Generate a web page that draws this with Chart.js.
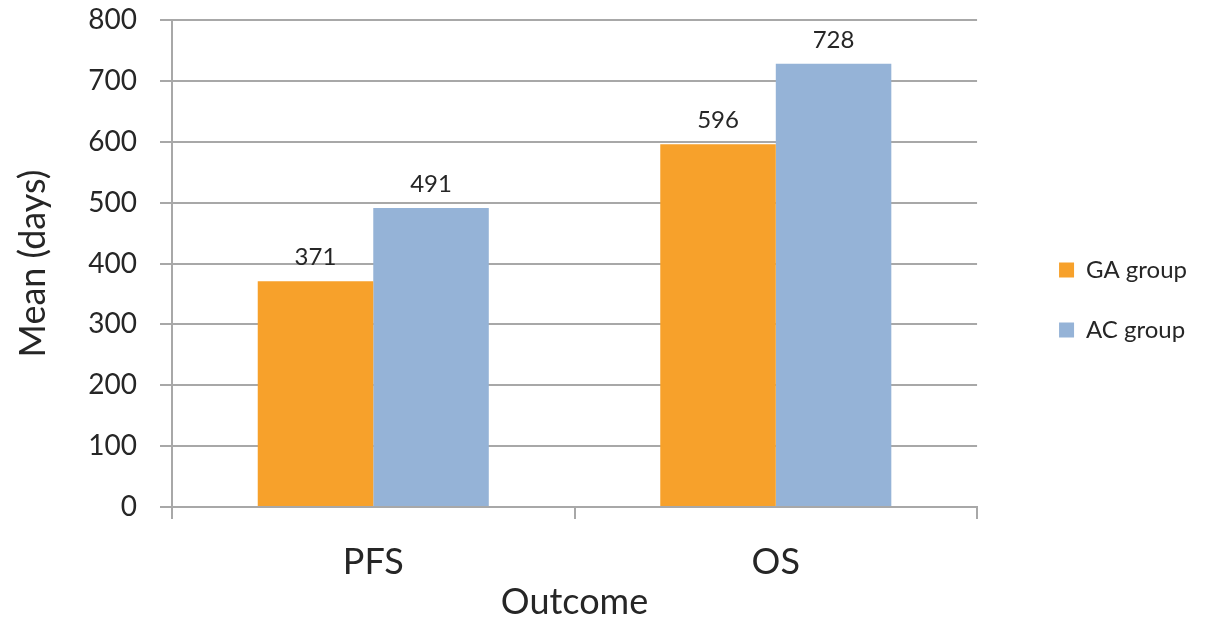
<!DOCTYPE html>
<html>
<head>
<meta charset="utf-8">
<title>Mean (days) by outcome</title>
<script src="https://cdn.jsdelivr.net/npm/chart.js@4/dist/chart.umd.min.js"></script>
<style>
  html, body { margin: 0; padding: 0; background: #ffffff; }
  #wrap { width: 1231px; height: 622px; position: relative; }
</style>
</head>
<body>
<div id="wrap"><canvas id="chart" width="1231" height="622"></canvas></div>
<script>
// Outcome categories and mean survival times (days) per treatment group
const categories = ['PFS', 'OS'];
const gaGroup = [371, 596];
const acGroup = [491, 728];
const seriesNames = ['GA group', 'AC group'];
const yTicks = [0, 100, 200, 300, 400, 500, 600, 700, 800];

const FONT = 'Lato, "Open Sans", "DejaVu Sans", sans-serif';
const TEXT = '#262626';
const GRID = '#a8a8a8';

// Writes each bar's value just above it
const valueLabels = {
  id: 'valueLabels',
  afterDatasetsDraw(chart) {
    const ctx = chart.ctx;
    ctx.save();
    ctx.font = '24px ' + FONT;
    ctx.fillStyle = TEXT;
    ctx.textAlign = 'center';
    ctx.textBaseline = 'middle';
    chart.data.datasets.forEach((ds, i) => {
      chart.getDatasetMeta(i).data.forEach((bar, j) => {
        ctx.fillText(String(ds.data[j]), bar.x, bar.y - 24);
      });
    });
    ctx.restore();
  }
};

new Chart(document.getElementById('chart'), {
  type: 'bar',
  data: {
    labels: categories,
    datasets: [
      { label: seriesNames[0], data: gaGroup, backgroundColor: '#f7a12b', borderWidth: 0 },
      { label: seriesNames[1], data: acGroup, backgroundColor: '#95b3d7', borderWidth: 0 }
    ]
  },
  options: {
    responsive: false,
    animation: false,
    layout: { padding: { left: 0, top: 0, right: 34, bottom: 22 } },
    datasets: { bar: { categoryPercentage: 0.574, barPercentage: 1.0 } },
    scales: {
      x: {
        grid: { drawOnChartArea: false, drawTicks: true, tickLength: 12, color: GRID, lineWidth: 2, offset: true },
        border: { display: true, color: GRID, width: 2 },
        ticks: { color: TEXT, font: { family: FONT, size: 36 }, padding: 22 },
        title: { display: true, text: 'Outcome', color: TEXT, font: { family: FONT, size: 36 }, padding: { top: 0, bottom: -24 } },
        afterFit(s) { s.height = 93; }
      },
      y: {
        min: 0,
        max: 800,
        afterBuildTicks(s) { s.ticks = yTicks.map(v => ({ value: v })); },
        grid: { color: GRID, lineWidth: 2, tickLength: 12 },
        border: { display: true, color: GRID, width: 2 },
        ticks: { color: TEXT, font: { family: FONT, size: 28 }, padding: 23 },
        title: { display: true, text: 'Mean (days)', color: TEXT, font: { family: FONT, size: 36 }, padding: { top: 12, bottom: 0 } },
        afterFit(s) { s.width = 172; s.paddingTop = 20; }
      },
      gap: {
        position: 'right',
        display: true,
        grid: { display: false, drawOnChartArea: false },
        border: { display: false },
        ticks: { display: false },
        afterFit(s) { s.width = 46; }
      }
    },
    plugins: {
      legend: {
        position: 'right',
        align: 'center',
        labels: {
          color: TEXT,
          font: { family: FONT, size: 24 },
          boxWidth: 15,
          boxHeight: 15,
          padding: 36
        }
      },
      tooltip: { enabled: false }
    }
  },
  plugins: [valueLabels]
});
</script>
</body>
</html>
